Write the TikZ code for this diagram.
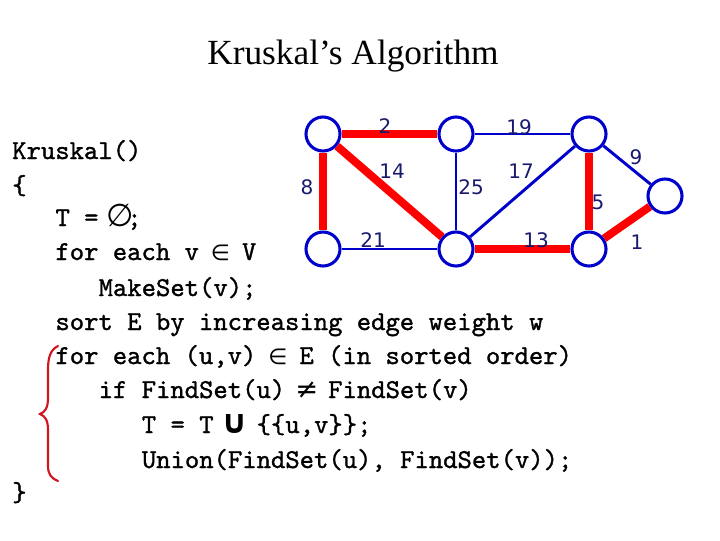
\documentclass[tikz,border=0pt]{standalone}
\usepackage{fontspec}
\setmainfont{Liberation Serif}
\newfontfamily\codefont{lmmono10-regular.otf}[FakeBold=1.2]
\newfontfamily\symfont{DejaVu Sans}
\newfontfamily\labfont{DejaVu Sans}
\newcommand\msym[2][1]{\makebox[0.525em][c]{\symfont\scalebox{#1}{#2}}}
\definecolor{nodeblue}{RGB}{0,0,204}
\definecolor{edgered}{RGB}{255,0,0}
\definecolor{labnavy}{RGB}{25,25,110}
\definecolor{bracered}{RGB}{210,20,30}
\begin{document}
\begin{tikzpicture}[x=0.75pt,y=-0.75pt,
  vert/.style={circle,draw=nodeblue,line width=2.3pt,fill=white,inner sep=0pt,minimum size=25.5pt},
  redge/.style={draw=edgered,line width=6pt},
  bedge/.style={draw=nodeblue,line width=2.2pt},
  wlab/.style={font=\labfont\fontsize{15}{17}\selectfont,text=labnavy,inner sep=0pt},
  code/.style={font=\codefont\fontsize{20.5}{22}\selectfont,anchor=base west,inner sep=0pt}]
\useasboundingbox (0,0) rectangle (720,540);
\node[font=\fontsize{26.5}{30}\selectfont,inner sep=0pt] (title) at (353,56) {Kruskal’s Algorithm};
% vertices
\node[vert] (A) at (323,134) {};
\node[vert] (B) at (456,134) {};
\node[vert] (C) at (589,134) {};
\node[vert] (D) at (323,249) {};
\node[vert] (E) at (456,249) {};
\node[vert] (F) at (589,249) {};
\node[vert] (G) at (665,196) {};
% edges
\draw[redge] (A) -- (B);
\draw[redge] (A) -- (D);
\draw[redge] (A) -- (E);
\draw[bedge] (B) -- (E);
\draw[bedge] (B) -- (C);
\draw[bedge] (E) -- (C);
\draw[bedge] (D) -- (E);
\draw[redge] (E) -- (F);
\draw[redge] (C) -- (F);
\draw[bedge] (C) -- (G);
\draw[redge] (F) -- (G);
% weights
\node[wlab] (w2) at (385,126) {2};
\node[wlab] (w8) at (307,187) {8};
\node[wlab] (w14) at (392,171) {14};
\node[wlab] (w25) at (471,187) {25};
\node[wlab] (w19) at (519,127) {19};
\node[wlab] (w17) at (521,171) {17};
\node[wlab] (w21) at (373,240) {21};
\node[wlab] (w13) at (536,240) {13};
\node[wlab] (w5) at (598,202) {5};
\node[wlab] (w9) at (636,157) {9};
\node[wlab] (w1) at (637,242) {1};
% code
\node[code] (l1) at (12,159) {Kruskal()};
\node[code] (l2) at (12,194) {\{};
\node[code] (l3) at (55.2,226) {T = \msym[1.15]{∅};};
\node[code] (l4) at (55.2,260) {for each v \msym[0.8]{∈} V};
\node[code] (l5) at (98.4,296) {MakeSet(v);};
\node[code] (l6) at (55.2,330) {sort E by increasing edge weight w};
\node[code] (l7) at (55.2,364) {for each (u,v) \msym[0.8]{∈} E (in sorted order)};
\node[code] (l8) at (98.4,398) {if FindSet(u) \msym{≠} FindSet(v)};
\node[code] (l9) at (141.6,433) {T = T \msym[1.2]{\textbf{∪}} \{\{u,v\}\};};
\node[code] (l10) at (141.6,468) {Union(FindSet(u), FindSet(v));};
\node[code] (l11) at (12,501) {\}};
% brace
\draw[bracered,line width=1.6pt,line cap=round] (58,346) .. controls (50,350) and (48,358) .. (48,370) -- (48,398) .. controls (48,408) and (45,412) .. (40,414) .. controls (45,416) and (48,420) .. (48,430) -- (48,466) .. controls (48,474) and (51,478) .. (58,481);
\end{tikzpicture}
\end{document}
